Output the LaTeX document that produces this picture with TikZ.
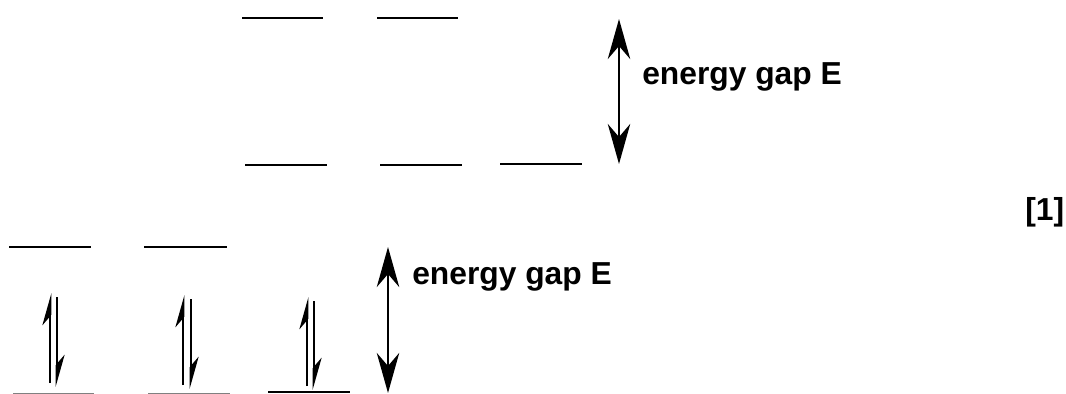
\documentclass[tikz,border=0pt]{standalone}
\usepackage{fontspec}
\setmainfont{Liberation Sans}
\usetikzlibrary{arrows.meta}

\begin{document}
\begin{tikzpicture}[
        x=0.025cm, y=-0.025cm,
        >={Stealth[length=1cm,width=0.56cm]},
        level/.style={line width=1.8pt},
        faint level/.style={line width=0.7pt, gray},
        gap/.style={line width=2pt, <->},
        spin/.style={line width=2pt, -{Stealth[harpoon,length=0.68cm,width=0.38cm]}},
        gap label/.style={font=\bfseries\fontsize{22.6}{25}\selectfont, anchor=west, inner sep=0pt}
      ]
      \useasboundingbox (0,0) rectangle (1066,394);

      % Upper panel
      \foreach \n/\xa/\xb/\y in {a/242/323/18, b/377/458/18,
          c/245/327/165, d/380/462/165, e/500/582/164} {
        \coordinate (top-\n-l) at (\xa,\y);
        \coordinate (top-\n-r) at (\xb,\y);
        \draw[level] (top-\n-l) -- (top-\n-r);
      }
      \coordinate (topgap-hi) at (619,19);
      \coordinate (topgap-lo) at (619,164);
      \draw[gap] (topgap-hi) -- (topgap-lo);
      \node[gap label] (toplabel) at (642,77) {energy gap E};

      \node[gap label] (mark) at (1025,212) {[1]};

      % Lower panel
      \foreach \n/\xa/\xb/\y/\s in {a/9/91/247/level, b/144/227/247/level,
          c/13/94/393/faint level, d/148/230/393/faint level, e/268/350/392/level} {
        \coordinate (bot-\n-l) at (\xa,\y);
        \coordinate (bot-\n-r) at (\xb,\y);
        \draw[\s] (bot-\n-l) -- (bot-\n-r);
      }
      \foreach \n/\xu/\xd/\ya/\yb in {1/50/57/383/293, 2/183/191/385/295, 3/307/314/386/297} {
        \coordinate (up-\n-a) at (\xu,\ya);
        \coordinate (up-\n-b) at (\xu,\yb);
        \coordinate (dn-\n-a) at (\xd,\yb+4);
        \coordinate (dn-\n-b) at (\xd,\ya+4);
        \draw[spin] (up-\n-a) -- (up-\n-b);
        \draw[spin] (dn-\n-a) -- (dn-\n-b);
      }
      \coordinate (botgap-hi) at (388,247);
      \coordinate (botgap-lo) at (388,393);
      \draw[gap] (botgap-hi) -- (botgap-lo);
      \node[gap label] (botlabel) at (412,277) {energy gap E};
    \end{tikzpicture}
\end{document}
